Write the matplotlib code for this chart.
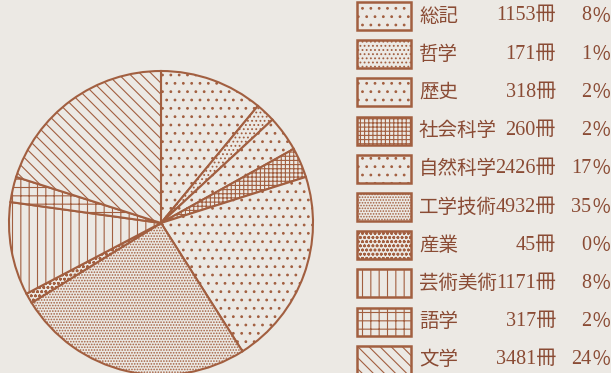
import matplotlib.pyplot as plt
from matplotlib.patches import Rectangle

plt.rcParams['font.family'] = ['Noto Sans CJK JP', 'DejaVu Sans']

# book counts by category (NDC classes), as printed in the legend
categories = ['総記', '哲学', '歴史', '社会科学', '自然科学',
              '工学技術', '産業', '芸術美術', '語学', '文学']
counts = [1153, 171, 318, 260, 2426, 4932, 45, 1171, 317, 3481]
percents = [8, 1, 2, 2, 17, 35, 0, 8, 2, 24]
# slice sizes as actually drawn in the printed pie (%)
drawn_share = [11.0, 2.1, 3.8, 3.2, 20.9, 25.2, 1.1, 9.9, 2.7, 20.1]
hatches = ['..', '....', '..', '++++', '..',
           '......', 'oooo', '||', '++', '\\\\\\']

brown = '#a25f40'
paper = '#ece9e4'
text_col = '#8a4b34'

plt.rcParams['hatch.color'] = brown
plt.rcParams['hatch.linewidth'] = 0.8

fig = plt.figure(figsize=(6.11, 3.73), dpi=100, facecolor=paper)
ax = fig.add_axes([0, 0, 1, 1])

# pie, clockwise from the top
wedges, _ = ax.pie(drawn_share, center=(161, 150), radius=152, startangle=90,
                   counterclock=False, frame=True,
                   wedgeprops=dict(facecolor=paper, edgecolor=brown, linewidth=1.5))
for w, h in zip(wedges, hatches):
    w.set_hatch(h)
ax.set_xlim(0, 611)
ax.set_ylim(0, 373)
ax.set_aspect('equal')
ax.axis('off')

# legend drawn by hand on the right
num_font = ['Liberation Serif', 'Noto Sans CJK JP']
row_y = [373 - (16 + 38.2 * i) for i in range(len(categories))]
for i, (name, n, p, h) in enumerate(zip(categories, counts, percents, hatches)):
    y = row_y[i]
    ax.add_patch(Rectangle((357, y - 14), 54, 28, facecolor=paper,
                           edgecolor=brown, linewidth=1.8, hatch=h))
    ax.text(419, y, name, ha='left', va='center', fontsize=14, color=text_col)
    ax.text(556, y, f'{n}冊', ha='right', va='center', fontsize=14.5,
            color=text_col, family=num_font)
    ax.text(591, y, f'{p}', ha='right', va='center', fontsize=14.5,
            color=text_col, family=num_font)
    ax.text(611, y, '％', ha='right', va='center', fontsize=14,
            color=text_col)

fig.savefig('out.png', dpi=100, facecolor=paper)
